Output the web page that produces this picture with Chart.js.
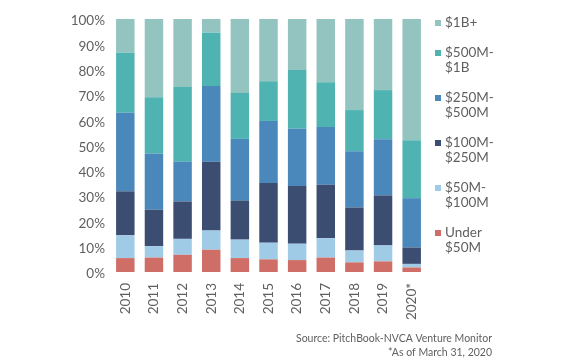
<!DOCTYPE html>
<html>
<head>
<meta charset="utf-8">
<script src="https://cdn.jsdelivr.net/npm/chart.js@4/dist/chart.umd.min.js"></script>
<style>
  html, body { margin: 0; padding: 0; background: #fff; }
  #wrap { width: 561px; height: 363px; position: relative; }
</style>
</head>
<body>
<div id="wrap"><canvas id="dealChart"></canvas></div>
<script>
// years and share of deal value (%) by size bucket
const years = ['2010', '2011', '2012', '2013', '2014', '2015', '2016', '2017', '2018', '2019', '2020*'];
const under50M = [5.5, 5.7, 6.8, 8.8, 5.5, 5.0, 4.7, 5.7, 3.8, 4.2, 1.8];
const m50to100 = [9.0, 4.5, 6.3, 7.6, 7.3, 6.6, 6.5, 7.7, 4.7, 6.3, 1.4];
const m100to250 = [17.4, 14.4, 14.8, 27.2, 15.4, 23.6, 22.8, 21.1, 17.0, 19.8, 6.5];
const m250to500 = [31.0, 22.2, 15.7, 29.9, 24.4, 24.5, 22.6, 22.8, 22.2, 22.2, 19.5];
const m500to1B = [23.9, 22.3, 29.5, 21.2, 18.2, 15.7, 23.2, 17.7, 16.3, 19.4, 22.9];
const over1B = [13.2, 30.9, 26.9, 5.3, 29.2, 24.6, 20.2, 25.0, 36.0, 28.1, 47.9];

const seriesNames = [['Under', '$50M'], ['$50M-', '$100M'], ['$100M-', '$250M'],
                     ['$250M-', '$500M'], ['$500M-', '$1B'], ['$1B+']];
const yTicks = [0, 10, 20, 30, 40, 50, 60, 70, 80, 90, 100];
const sourceNote = ['Source: PitchBook-NVCA Venture Monitor', '*As of March 31, 2020'];

const colors = ['#cf6e66', '#a0cbe6', '#3b4d70', '#4a88bb', '#4fb3b1', '#93c4bf'];
const textColor = '#5f5f5f';

Chart.defaults.font.family = 'Lato, "Open Sans", sans-serif';
Chart.defaults.font.size = 13.5;
Chart.defaults.color = textColor;

const allSeries = [under50M, m50to100, m100to250, m250to500, m500to1B, over1B];

// legend at the right, top bucket first, names can wrap on two lines
const sideLegend = {
  id: 'sideLegend',
  afterDraw(chart) {
    const ctx = chart.ctx;
    ctx.save();
    ctx.font = '13.5px ' + Chart.defaults.font.family;
    ctx.textBaseline = 'middle';
    let y = 23;
    for (let i = chart.data.datasets.length - 1; i >= 0; i--) {
      const ds = chart.data.datasets[i];
      ctx.fillStyle = ds.backgroundColor;
      ctx.fillRect(435, y - 3, 6, 6);
      ctx.fillStyle = textColor;
      const lines = seriesNames[i];
      lines.forEach((t, k) => ctx.fillText(t, 445, y + k * 15));
      y += lines.length * 15 + 15;
    }
    ctx.textAlign = 'right';
    ctx.font = '10.5px ' + Chart.defaults.font.family;
    ctx.fillText(sourceNote[0], 492, 339);
    ctx.fillText(sourceNote[1], 492, 353);
    ctx.restore();
  }
};

new Chart(document.getElementById('dealChart'), {
  type: 'bar',
  data: {
    labels: years,
    datasets: allSeries.map((d, i) => ({
      label: seriesNames[i].join(' '),
      data: d,
      backgroundColor: colors[i],
      borderWidth: 0,
      barPercentage: 0.645,
      categoryPercentage: 1
    }))
  },
  options: {
    responsive: true,
    maintainAspectRatio: false,
    animation: false,
    layout: { padding: { left: 0, right: 135, top: 19, bottom: 41 } },
    plugins: { legend: { display: false }, tooltip: { enabled: false } },
    scales: {
      x: {
        stacked: true,
        grid: { display: false, drawTicks: false },
        border: { display: false },
        ticks: { minRotation: 90, maxRotation: 90, padding: 11, color: textColor },
        afterFit(s) { s.height = 50; }
      },
      y: {
        stacked: true,
        min: 0,
        max: 100,
        grid: { display: false, drawTicks: false },
        border: { display: false },
        afterBuildTicks(s) { s.ticks = yTicks.map(v => ({ value: v })); },
        ticks: { padding: 6, labelOffset: 2, color: textColor, callback: v => v + '%' },
        afterFit(s) { s.width = 111; }
      }
    }
  },
  plugins: [sideLegend]
});
</script>
</body>
</html>
